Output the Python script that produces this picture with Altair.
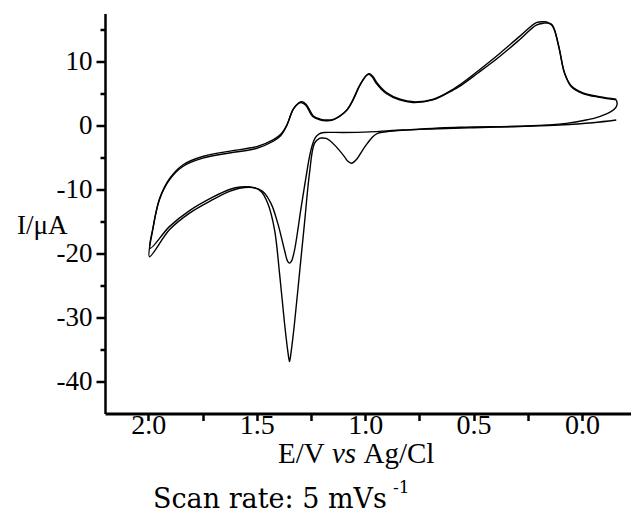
import altair as alt
import pandas as pd

# ---- data (E in V vs Ag/Cl, I in microampere) ----
E_cycle1 = [-0.158, -0.05, 0.104, 0.26, 0.50, 0.70, 0.83, 0.903, 0.94, 0.965, 0.99, 1.011, 1.040, 1.063, 1.080,
            1.095, 1.134, 1.165, 1.180, 1.200,
            1.211, 1.234, 1.257, 1.280, 1.303, 1.326, 1.342, 1.349, 1.356, 1.372, 1.395, 1.418, 1.449, 1.480,
            1.518, 1.580, 1.626, 1.703, 1.810, 1.903, 1.995,
            1.980, 1.949, 1.903, 1.841, 1.749, 1.626, 1.503, 1.426, 1.390, 1.364, 1.334, 1.310, 1.295, 1.275,
            1.242, 1.210, 1.180, 1.150, 1.119, 1.085, 1.057, 1.030, 1.011, 0.995, 0.983, 0.968, 0.949, 0.903,
            0.842, 0.780, 0.688, 0.596, 0.565, 0.48,
            0.381, 0.288, 0.211, 0.175, 0.158, 0.140, 0.127, 0.104, 0.081, 0.050, -0.004, -0.081, -0.158]
I_cycle1 = [0.86, 0.44, 0.08, -0.12, -0.35, -0.55, -0.75, -0.97, -1.2, -1.75, -2.8, -3.8, -5.3, -5.9, -5.6,
            -4.9, -3.3, -2.3, -2.0, -1.95,
            -2.0, -2.8, -7.5, -15.3, -23.1, -30.9, -35.5, -36.9, -35.5, -30.9, -23.1, -16.3, -12.2, -10.3,
            -9.7, -9.8, -10.3, -11.6, -13.7, -16.3, -20.5,
            -16.3, -11.6, -8.5, -6.4, -5.1, -4.3, -3.6, -2.5, -1.6, -0.2, 2.4, 3.4, 3.6, 3.2,
            1.4, 0.9, 0.75, 0.85, 1.4, 2.4, 4.0, 6.0, 7.1, 7.8, 8.0, 7.6, 6.6, 5.0,
            4.0, 3.6, 4.0, 5.5, 6.1, 8.2,
            10.75, 13.4, 15.7, 16.0, 16.0, 15.7, 14.9, 11.8, 8.2, 6.1, 5.0, 4.4, 4.0]

E_cycle2 = [-0.158, -0.162, -0.158, -0.135, -0.081, -0.019, 0.073, 0.257, 0.565, 0.827, 0.980, 1.100, 1.190,
            1.212, 1.230, 1.245, 1.257, 1.275, 1.295, 1.326, 1.340, 1.349, 1.358, 1.372, 1.403, 1.434, 1.472,
            1.511, 1.575, 1.626, 1.703, 1.810, 1.903, 1.992,
            1.978, 1.947, 1.900, 1.838, 1.746, 1.623, 1.500, 1.423, 1.387, 1.361, 1.331, 1.307, 1.292, 1.272,
            1.239, 1.207, 1.177, 1.147, 1.116, 1.082, 1.054, 1.027, 1.008, 0.992, 0.980, 0.965, 0.946, 0.900,
            0.839, 0.777, 0.685, 0.593, 0.562, 0.477,
            0.378, 0.285, 0.208, 0.172, 0.158, 0.140, 0.127, 0.104, 0.081, 0.050, -0.004, -0.081, -0.158]
I_cycle2 = [4.0, 3.5, 2.9, 2.2, 1.4, 0.86, 0.34, -0.08, -0.28, -0.7, -1.0, -1.1, -1.1,
            -1.3, -1.9, -3.2, -4.9, -8.5, -12.7, -19.5, -21.2, -21.5, -21.2, -19.5, -15.3, -12.2, -10.3,
            -9.7, -9.6, -10.0, -11.2, -13.3, -15.8, -19.2,
            -15.9, -11.3, -8.2, -6.1, -4.8, -4.0, -3.3, -2.2, -1.3, 0.1, 2.6, 3.5, 3.7, 3.3,
            1.5, 1.0, 0.85, 0.95, 1.5, 2.5, 4.1, 6.1, 7.2, 7.9, 8.1, 7.7, 6.7, 5.1,
            4.1, 3.7, 4.1, 5.7, 6.4, 8.6,
            11.3, 14.0, 16.1, 16.2, 16.1, 15.8, 15.0, 11.9, 8.3, 6.2, 5.1, 4.5, 4.1]

x_ticks = [2.0, 1.75, 1.5, 1.25, 1.0, 0.75, 0.5, 0.25, 0.0]
y_major = [-40, -30, -20, -10, 0, 10]
y_minor = [-35, -25, -15, -5, 5, 15]
x_domain = [-0.226, 2.2]
y_domain = [-45, 17.5]

rows = []
for cyc, (e_list, i_list) in enumerate([(E_cycle1, I_cycle1), (E_cycle2, I_cycle2)], start=1):
    for k, (e, i) in enumerate(zip(e_list, i_list)):
        rows.append({"cycle": cyc, "idx": k, "E": e, "I": i})
df = pd.DataFrame(rows)

SERIF = "Liberation Serif"

xscale = alt.Scale(domain=x_domain, reverse=True, nice=False, zero=False)
yscale = alt.Scale(domain=y_domain, nice=False, zero=False)

lines = alt.Chart(df).mark_line(color="black", strokeWidth=1.4, interpolate="catmull-rom").encode(
    x=alt.X("E:Q", scale=xscale,
            axis=alt.Axis(values=x_ticks, title=None, grid=False,
                          labelExpr="abs(datum.value*2 - round(datum.value*2)) < 0.001 ? format(datum.value, '.1f') : ''",
                          tickSize=7, tickWidth=2.5, tickColor="black",
                          domainWidth=3, domainColor="black",
                          labelFont=SERIF, labelFontSize=28, labelColor="black",
                          labelPadding=-9, labelFlush=False, labelOverlap=False)),
    y=alt.Y("I:Q", scale=yscale,
            axis=alt.Axis(values=y_major, title=None, grid=False,
                          labelExpr="datum.value < 0 ? '-' + abs(datum.value) : '' + datum.value",
                          tickSize=9, tickWidth=2.5, tickColor="black",
                          domainWidth=2.5, domainColor="black",
                          labelFont=SERIF, labelFontSize=27, labelColor="black",
                          labelPadding=4, labelFlush=False, labelOverlap=False)),
    detail="cycle:N",
    order="idx:Q",
)

minor = alt.Chart(df).mark_point(opacity=0).encode(
    y=alt.Y("I:Q", scale=yscale,
            axis=alt.Axis(values=y_minor, orient="left", title=None, grid=False, labels=False,
                          domain=False, tickSize=5, tickWidth=2.5, tickColor="black")),
)


def txt(s, x, y, size, font=SERIF, style="normal", align="left"):
    return alt.Chart(pd.DataFrame({"t": [s]})).mark_text(
        font=font, fontSize=size, fontStyle=style, align=align, baseline="alphabetic", color="black"
    ).encode(x=alt.value(x), y=alt.value(y), text="t:N")


texts = [
    txt("I/\u03bcA", -88, 220, 27),
    txt("E/V", 173, 449, 29),
    txt("vs", 227, 449, 29, style="italic"),
    txt("Ag/Cl", 258.5, 449, 29),
    txt("Scan rate: 5 mVs", 48, 494, 27, font="DejaVu Serif"),
    txt("-1", 288, 479, 17, font="DejaVu Serif"),
]

chart = alt.layer(lines, minor, *texts).resolve_axis(y="independent").properties(
    width=526, height=400,
    background="white",
    autosize=alt.AutoSizeParams(type="none"),
    padding={"left": 105, "top": 13.5, "right": 0, "bottom": 99.5},
).configure_view(stroke=None)

chart.save("out.html", embed_options={"renderer": "svg", "actions": False})
